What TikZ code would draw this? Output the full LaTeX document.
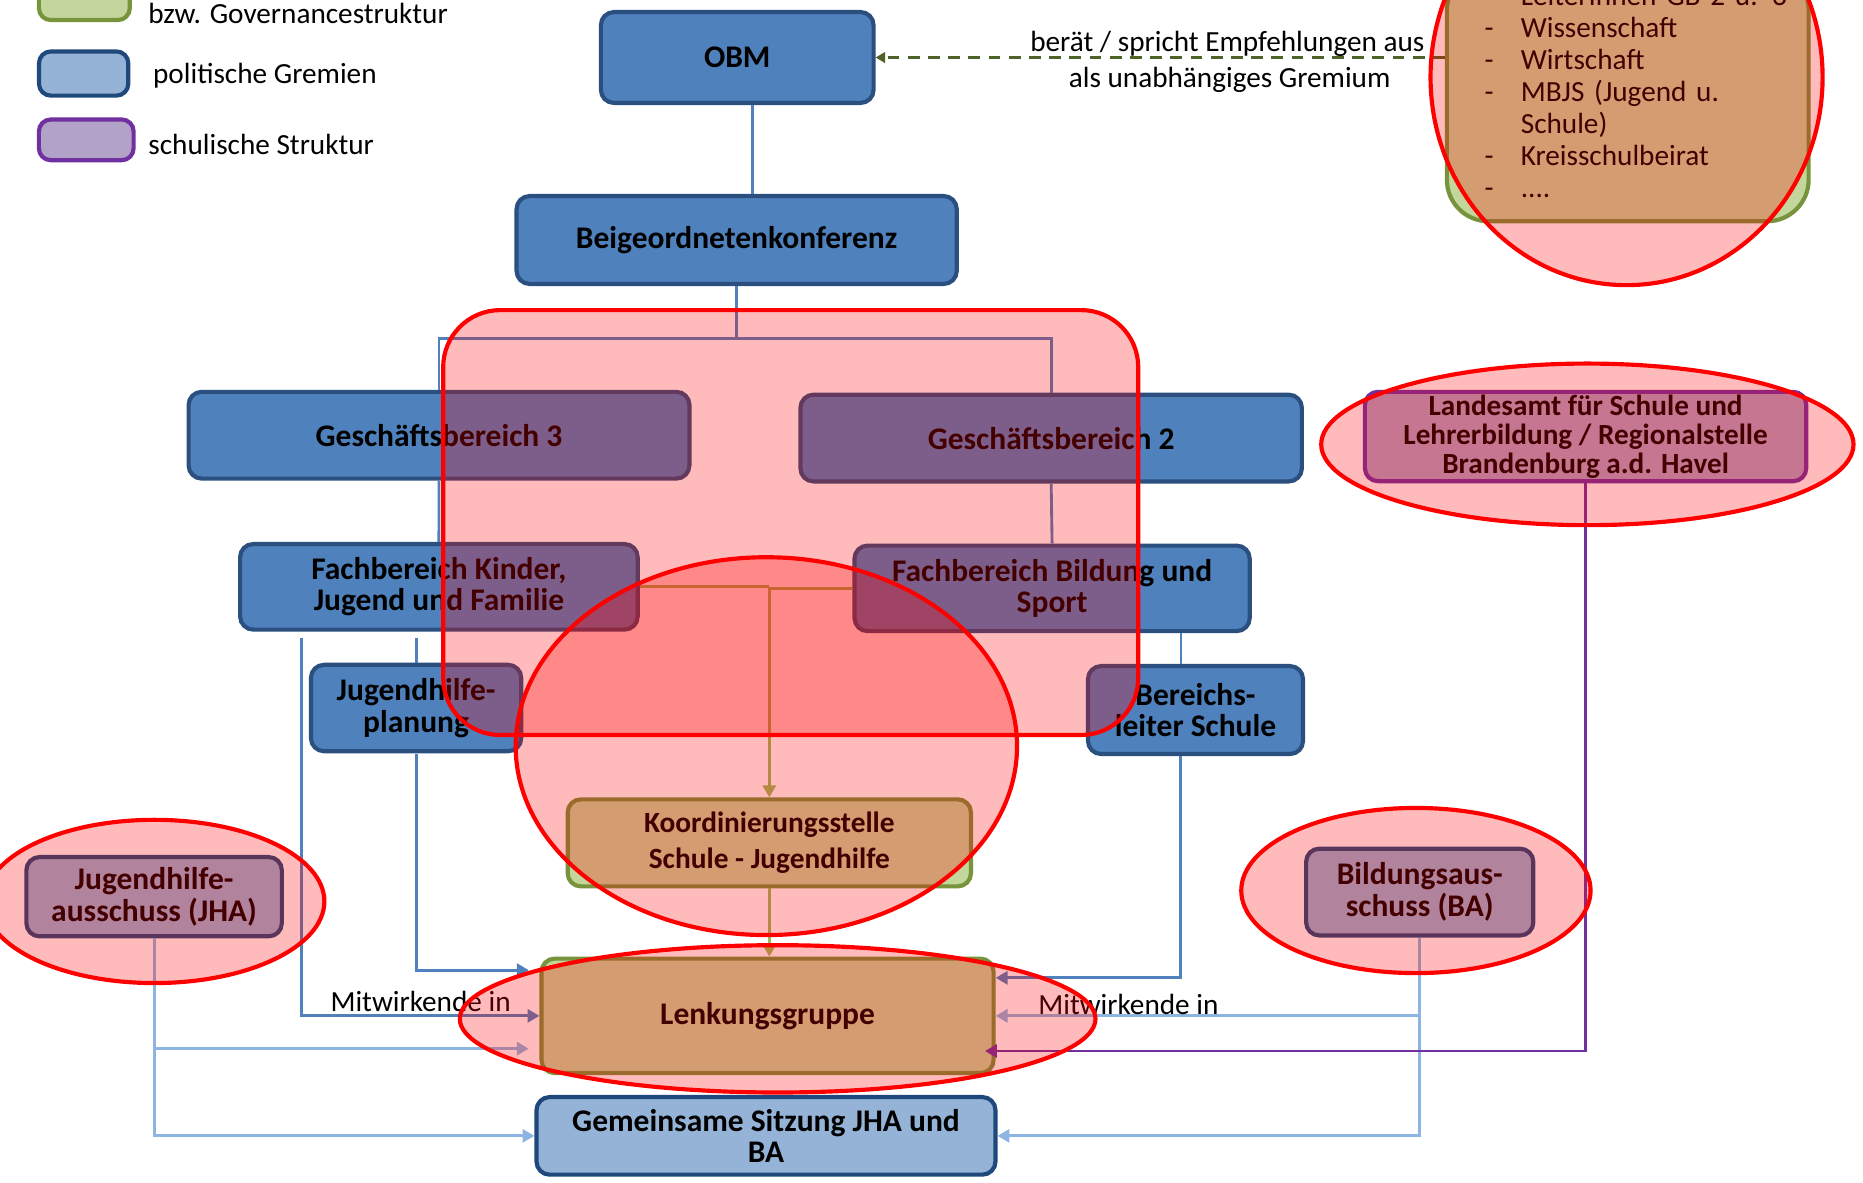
\documentclass[tikz,border=0pt]{standalone}
\usepackage{fontspec}
\setmainfont{Carlito}
\usetikzlibrary{arrows.meta}

\definecolor{boxblue}{HTML}{4F81BD}
\definecolor{boxblueline}{HTML}{2B5080}
\definecolor{lightfill}{HTML}{95B3D7}
\definecolor{lightline}{HTML}{1F497D}
\definecolor{govfill}{HTML}{C3D69B}
\definecolor{govline}{HTML}{77933C}
\definecolor{schoolfill}{HTML}{B2A2C7}
\definecolor{schoolline}{HTML}{7030A0}
\definecolor{linkblue}{HTML}{4F81BD}
\definecolor{linklight}{HTML}{8EB4E3}
\definecolor{linkgreen}{HTML}{9BBB59}
\definecolor{linkpurple}{HTML}{7030A0}
\definecolor{linkdash}{HTML}{4F6228}

\newcommand\orgbold{\fontsize{26.5}{26.5}\selectfont\bfseries}
\newcommand\orgreg{\fontsize{24.6}{27}\selectfont}

\tikzset{
  orgbase/.style={rectangle, rounded corners=11pt, line width=3.5pt,
    inner sep=0pt, align=center, text=black, font=\orgbold},
  bluebox/.style={orgbase, draw=boxblueline, fill=boxblue},
  lightbox/.style={orgbase, draw=lightline, fill=lightfill},
  govbox/.style={orgbase, draw=govline, fill=govfill},
  schoolbox/.style={orgbase, draw=schoolline, fill=schoolfill},
  legtext/.style={anchor=west, inner sep=0pt, font=\orgreg, text=black},
  lbl/.style={inner sep=0pt, font=\orgreg, text=black},
  tip/.style={-{Triangle[length=10pt,width=11pt]}},
  conn/.style={line width=2.4pt, draw=linkblue},
  lconn/.style={line width=2.4pt, draw=linklight},
  pconn/.style={line width=2.4pt, draw=linkpurple},
  gconn/.style={line width=2.8pt, draw=linkgreen},
  dconn/.style={line width=2.8pt, draw=linkdash, dash pattern=on 10pt off 7pt,
    -{Triangle[length=8pt,width=9pt]}},
  hl/.style={draw=red, line width=3.5pt, fill=red, fill opacity=0.265}
}

\begin{document}
\begin{tikzpicture}[x=1pt,y=-1pt]
\useasboundingbox (0,0) rectangle (1568,995);
\clip (0,0) rectangle (1568,995);

% legend
\node[govbox, rounded corners=10pt, minimum width=76.5pt, minimum height=35pt] (leggovbox) at (71,-0.6) {};
\node[lightbox, rounded corners=10pt, minimum width=75.2pt, minimum height=37.2pt] (legpolbox) at (70.4,61.9) {};
\node[schoolbox, rounded corners=10pt, minimum width=79.7pt, minimum height=34.3pt] (legschbox) at (72.6,117.7) {};
\node[legtext] (leggov) at (124.7,11.2) {bzw. Governancestruktur};
\node[legtext] (legpol) at (128.7,64) {politische Gremien};
\node[legtext] (legsch) at (124.7,122) {schulische Struktur};

% boxes
\node[bluebox, minimum width=229.5pt, minimum height=76.5pt] (obm) at (620.5,48.4) {OBM};
\node[bluebox, minimum width=370.5pt, minimum height=74pt] (beig) at (620,202) {Beigeordnetenkonferenz};
\node[bluebox, minimum width=421.5pt, minimum height=73pt] (gb3) at (369.5,366.3) {Geschäftsbereich 3};
\node[bluebox, minimum width=422pt, minimum height=73pt] (gb2) at (884.7,368.7) {Geschäftsbereich 2};
\node[bluebox, minimum width=334.6pt, minimum height=72pt] (fbkjf) at (369.4,493.9) {Fachbereich Kinder,\\Jugend und Familie};
\node[bluebox, minimum width=332.6pt, minimum height=72pt] (fbbs) at (885.5,495.2) {Fachbereich Bildung und\\Sport};
\node[bluebox, minimum width=177pt, minimum height=72.7pt] (jhp) at (350.2,595.9) {Jugendhilfe-\\planung};
\node[bluebox, minimum width=181pt, minimum height=74pt] (bls) at (1006.2,597.6) {Bereichs-\\leiter Schule};
\node[govbox, minimum width=339.4pt, minimum height=73.2pt, font=\fontsize{24.7}{30}\selectfont\bfseries] (ks) at (647.5,709.4) {Koordinierungsstelle\\Schule - Jugendhilfe};
\node[govbox, minimum width=380.5pt, minimum height=96.3pt] (lg) at (646,855) {Lenkungsgruppe};
\node[lightbox, minimum width=386.3pt, minimum height=65.3pt] (gem) at (644.7,956) {Gemeinsame Sitzung JHA und\\BA};
\node[lightbox, minimum width=215pt, minimum height=66.7pt] (jha) at (129.7,754.7) {Jugendhilfe-\\ausschuss (JHA)};
\node[lightbox, minimum width=191.2pt, minimum height=73pt] (ba) at (1194.9,750.8) {Bildungsaus-\\schuss (BA)};
\node[schoolbox, minimum width=371.5pt, minimum height=75.2pt, font=\fontsize{24.6}{24.5}\selectfont\bfseries] (lfs) at (1334.5,367.4) {Landesamt für Schule und\\Lehrerbildung / Regionalstelle\\Brandenburg a.d. Havel};
\node[govbox, rounded corners=35pt, minimum width=304.5pt, minimum height=212.5pt,
      text width=241pt, inner xsep=31.5pt, inner ysep=0pt, align=left, font=\orgreg] (beirat) at (1370,80)
  {\begin{tabular}{@{}p{30.5pt}@{}l@{}}
   -&LeiterInnen GB 2 u. 3\\
   -&Wissenschaft\\
   -&Wirtschaft\\
   -&MBJS (Jugend u.\\
    &Schule)\\
   -&Kreisschulbeirat\\
   -&....
   \end{tabular}};

% line of command
\draw[conn] ([xshift=12.6pt]obm.south) -- ([xshift=12.6pt]obm.south |- beig.north);
\coordinate (split) at ([yshift=-44pt]beig.south);
\draw[conn] (beig.south) -- (split) -| (gb3.north);
\draw[conn] (split) -| (gb2.north);
\draw[conn] (gb3.south) -- (fbkjf.north);
\draw[conn] (gb2.south) -- (fbbs.north);
\draw[conn] ([yshift=-5pt]jhp.north |- fbkjf.south) -- (jhp.north);
\draw[conn] ([xshift=-12.2pt]bls.north |- fbbs.south) -- ([xshift=-12.2pt]bls.north);

% members of the steering group
\draw[conn, tip] ([xshift=-115.4pt, yshift=-5pt]fbkjf.south) |- (lg.west)
  node[lbl, pos=0.75, yshift=12.3pt] (mitl) {Mitwirkende in};
\draw[conn, tip] ([yshift=-1pt]jhp.south) |- ([xshift=-9pt, yshift=38.5pt]lg.west);
\draw[conn, tip] ([xshift=-13pt]bls.south) |- ([yshift=32pt]lg.east);
\draw[lconn, tip] (jha.south) |- (gem.west);
\draw[lconn, tip] (jha.south |- lg.west) ++(0,27.6) coordinate (jhabr) -- ([xshift=-9pt, yshift=-27.6pt]lg.west);
\draw[lconn, tip] (ba.south) |- (gem.east);
\draw[lconn, tip] (ba.south |- lg.east) -- (lg.east)
  node[lbl, pos=0.687, yshift=10pt] (mitr) {Mitwirkende in};
\draw[pconn, tip] (lfs.south) |- ([xshift=-9pt, yshift=-29.6pt]lg.east);

% coordination office
\coordinate (kjoin) at (ks.north |- fbkjf.east);
\draw[gconn] (fbkjf.east) -- (kjoin);
\draw[gconn] (fbbs.west) -- (fbbs.west -| ks.north);
\draw[gconn, tip] (kjoin) -- (ks.north);
\draw[gconn, tip] (ks.south) -- (ks.south |- lg.north);

% advisory board
\draw[dconn] (beirat.west |- obm.east) -- (obm.east)
  node[lbl, pos=0.382, yshift=11.2pt] (adv1) {berät / spricht Empfehlungen aus}
  node[lbl, pos=0.378, yshift=-18.4pt] (adv2) {als unabhängiges Gremium};

% highlight marks
\draw[hl, rounded corners=48pt] (373,261) rectangle (958,618.6);
\draw[hl] (645,628) ellipse (211 and 159);
\draw[hl] (654.5,857.5) ellipse (267.5 and 62);
\draw[hl] (130,758.7) ellipse (143 and 68.7);
\draw[hl] (1191.7,749.5) ellipse (147 and 69.5);
\draw[hl] (1336,374) ellipse (224 and 68);
\draw[hl] (1369,65) ellipse (165 and 175);
\end{tikzpicture}
\end{document}
